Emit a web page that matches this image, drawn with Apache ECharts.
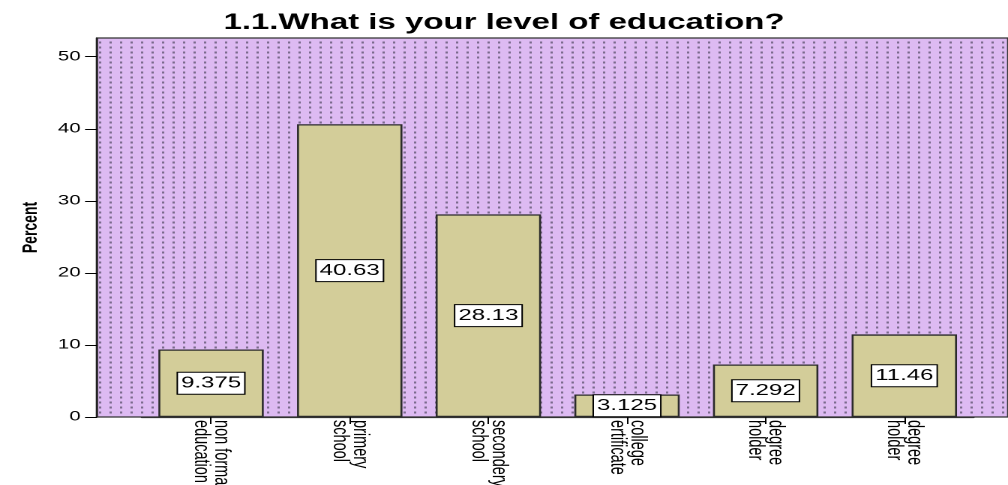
<!DOCTYPE html>
<html><head><meta charset="utf-8">
<script src="https://cdn.jsdelivr.net/npm/echarts@6/dist/echarts.min.js"></script>
<style>
html,body{margin:0;padding:0;background:#fff;overflow:hidden}
#wrap{width:1008px;height:485px;overflow:hidden}
#c{width:672px;height:485px;transform:scaleX(1.5);transform-origin:0 0}
</style>
</head><body><div id="wrap"><div id="c"></div></div>
<script>
const categories = ['non formal\neducation', 'primery\nschool', 'secondery\nschool', 'college\nertificate', 'degree\nholder', 'degree\nholder'];
const percentValues = [9.375, 40.63, 28.13, 3.125, 7.292, 11.46];
const yTicks = [0, 10, 20, 30, 40, 50];

const tile = document.createElement('canvas');
tile.width = 14; tile.height = 10;
const g = tile.getContext('2d');
g.fillStyle = '#DDBAF2'; g.fillRect(0, 0, 14, 10);
g.fillStyle = '#7a6a8c';
g.fillRect(6, 3, 3, 4);

const chart = echarts.init(document.getElementById('c'), null, { renderer: 'canvas', devicePixelRatio: 2 });
chart.setOption({
  animation: false,
  title: {
    text: '1.1.What is your level of education?',
    left: 'center', top: 7,
    textStyle: { fontSize: 22, fontWeight: 'bold', color: '#000', fontFamily: 'Arial, Liberation Sans, sans-serif' }
  },
  grid: [
    { left: 64.7, right: 0, top: 38, bottom: 68, show: true, outerBoundsMode: 'none', containLabel: false,
      backgroundColor: { image: tile, repeat: 'repeat', scaleX: 0.5, scaleY: 0.5 },
      borderColor: '#333', borderWidth: 1.3 },
    { left: 94.5, right: 22.9, top: 38, bottom: 68, show: false, outerBoundsMode: 'none', containLabel: false }
  ],
  xAxis: [
    { gridIndex: 0, type: 'value', show: false },
    { gridIndex: 1, type: 'category', data: categories,
      axisLine: { show: true, lineStyle: { color: '#333', width: 1.3 } },
      axisTick: { show: true, alignWithLabel: true, length: 7, lineStyle: { color: '#000', width: 1 } },
      axisLabel: { rotate: -90, fontSize: 14.5, lineHeight: 13.5, color: '#000', margin: 3, interval: 0,
        fontFamily: 'Arial, Liberation Sans, sans-serif' } }
  ],
  yAxis: [
    { gridIndex: 0, type: 'value', show: false },
    { gridIndex: 1, type: 'value', min: 0, max: 52.6, interval: 10, offset: 29.8,
      axisLine: { show: true, lineStyle: { color: '#222', width: 1.3 } },
      axisTick: { show: true, length: 8, customValues: yTicks, lineStyle: { color: '#000', width: 1 } },
      axisLabel: { customValues: yTicks, fontSize: 13.5, color: '#000', margin: 11,
        fontFamily: 'Arial, Liberation Sans, sans-serif' },
      splitLine: { show: false },
      name: 'Percent', nameLocation: 'middle', nameGap: 28, nameRotate: 90,
      nameTextStyle: { fontWeight: 'bold', fontSize: 14, color: '#000', fontFamily: 'Liberation Sans Narrow, Arial, sans-serif' } }
  ],
  series: [{
    type: 'bar', xAxisIndex: 1, yAxisIndex: 1, data: percentValues, barWidth: '76%',
    itemStyle: { color: '#D3CD99', borderColor: '#2b2b2b', borderWidth: 1.3 },
    label: { show: true, position: 'inside', formatter: '{c}', backgroundColor: '#fff',
      borderColor: '#000', borderWidth: 1, padding: [3, 2, 2, 2], fontSize: 16, lineHeight: 16,
      color: '#000', fontFamily: 'Arial, Liberation Sans, sans-serif' }
  }]
});
</script>
</body></html>
